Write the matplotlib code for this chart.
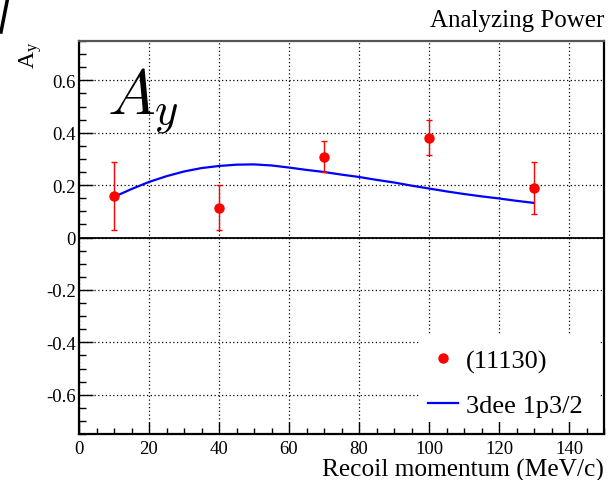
import matplotlib
matplotlib.use("Agg")
import matplotlib.pyplot as plt
from matplotlib.lines import Line2D
from matplotlib.patches import Rectangle
from matplotlib.ticker import MultipleLocator, FuncFormatter

plt.rcParams['font.family'] = ['Liberation Serif', 'DejaVu Serif']
plt.rcParams['axes.unicode_minus'] = False

# Measured analyzing power (run 11130)
p_recoil = [10, 40, 70, 100, 130]
ay_meas = [0.157, 0.114, 0.309, 0.381, 0.189]
ay_err = [0.130, 0.086, 0.059, 0.067, 0.098]

# 3dee calculation, 1p3/2 knockout
p_calc = [10, 15, 20, 25, 30, 35, 40, 45, 50, 55, 60, 65, 70,
          75, 80, 85, 90, 95, 100, 105, 110, 115, 120, 125, 130]
ay_calc = [0.155, 0.185, 0.212, 0.234, 0.252, 0.265, 0.273, 0.278, 0.279,
           0.275, 0.267, 0.258, 0.250, 0.240, 0.231, 0.220, 0.210, 0.198,
           0.187, 0.176, 0.166, 0.157, 0.149, 0.140, 0.132]

x_ticks = [0, 20, 40, 60, 80, 100, 120, 140]
y_ticks = [-0.6, -0.4, -0.2, 0.0, 0.2, 0.4, 0.6]
legend_labels = ['(11130)', '3dee 1p3/2']

W, H = 614, 481
fig = plt.figure(figsize=(W / 100, H / 100), dpi=100)
ax = fig.add_axes([79 / W, 1 - 435 / H, 525 / W, 393 / H])

ax.set_xlim(0, 150)
ax.set_ylim(-0.75, 0.75)

ax.grid(True, which='major', color='black', linestyle=(0, (1, 2)), linewidth=0.9)
ax.axhline(0, color='black', linewidth=1.3, zorder=2)

line, = ax.plot(p_calc, ay_calc, color='#0000ff', linewidth=1.6, zorder=3)
ax.errorbar(p_recoil, ay_meas, yerr=ay_err, fmt='o', color='#ff0000',
            markersize=6.5, elinewidth=1.0, capsize=2.2, capthick=1.0, zorder=4)

ax.set_xticks(x_ticks)
ax.set_yticks(y_ticks)
ax.xaxis.set_minor_locator(MultipleLocator(5))
ax.yaxis.set_minor_locator(MultipleLocator(0.05))
ax.yaxis.set_major_formatter(FuncFormatter(lambda v, _: '0' if abs(v) < 1e-9 else f'{v:.1f}'))
ax.tick_params(axis='both', which='both', direction='in', labelsize=13.5,
               color='black', width=1.0)
ax.tick_params(axis='y', which='major', length=10, pad=2.5)
ax.tick_params(axis='y', which='minor', length=5)
ax.tick_params(axis='x', which='major', length=9, pad=4)
ax.tick_params(axis='x', which='minor', length=4)

for s in ax.spines.values():
    s.set_linewidth(1.6)
    s.set_color('black')
ax.spines['top'].set_color('#555555')

ax.set_xlabel('Recoil momentum (MeV/c)', fontsize=18.3, loc='right')
ax.xaxis.set_label_coords(1.0, -0.061)
ax.set_ylabel(r'$\mathregular{A_y}$', fontsize=17, loc='top')
ax.yaxis.set_label_coords(-0.066, 1.0)

ax.text(8.0, 0.472, r'$A_y$', fontsize=46, math_fontfamily='cm',
        ha='left', va='baseline', zorder=5)

# white legend pad covering the grid
ax.add_patch(Rectangle(((420 - 79) / 525, (435 - 423) / 393), 180 / 525, 87 / 393,
                       transform=ax.transAxes, facecolor='white',
                       edgecolor='none', zorder=1.6))
dot_handle = Line2D([], [], linestyle='none', marker='o', markersize=6.5,
                    color='#ff0000')
leg = ax.legend(handles=[dot_handle, line], labels=legend_labels,
                loc='upper left',
                bbox_to_anchor=((428 - 79) / 525, (435 - 350) / 393),
                borderaxespad=0, borderpad=0,
                fontsize=19, frameon=False,
                handlelength=1.14, handletextpad=0.3, labelspacing=0.78)

fig.text(604 / W, 1 - 27 / H, 'Analyzing Power', fontsize=18,
         ha='right', va='baseline')

fig.add_artist(Line2D([1 / W, 7.5 / W], [1 - 33 / H, 1.0], color='black',
                      linewidth=2.5, transform=fig.transFigure))

fig.savefig('out.png', dpi=100)
